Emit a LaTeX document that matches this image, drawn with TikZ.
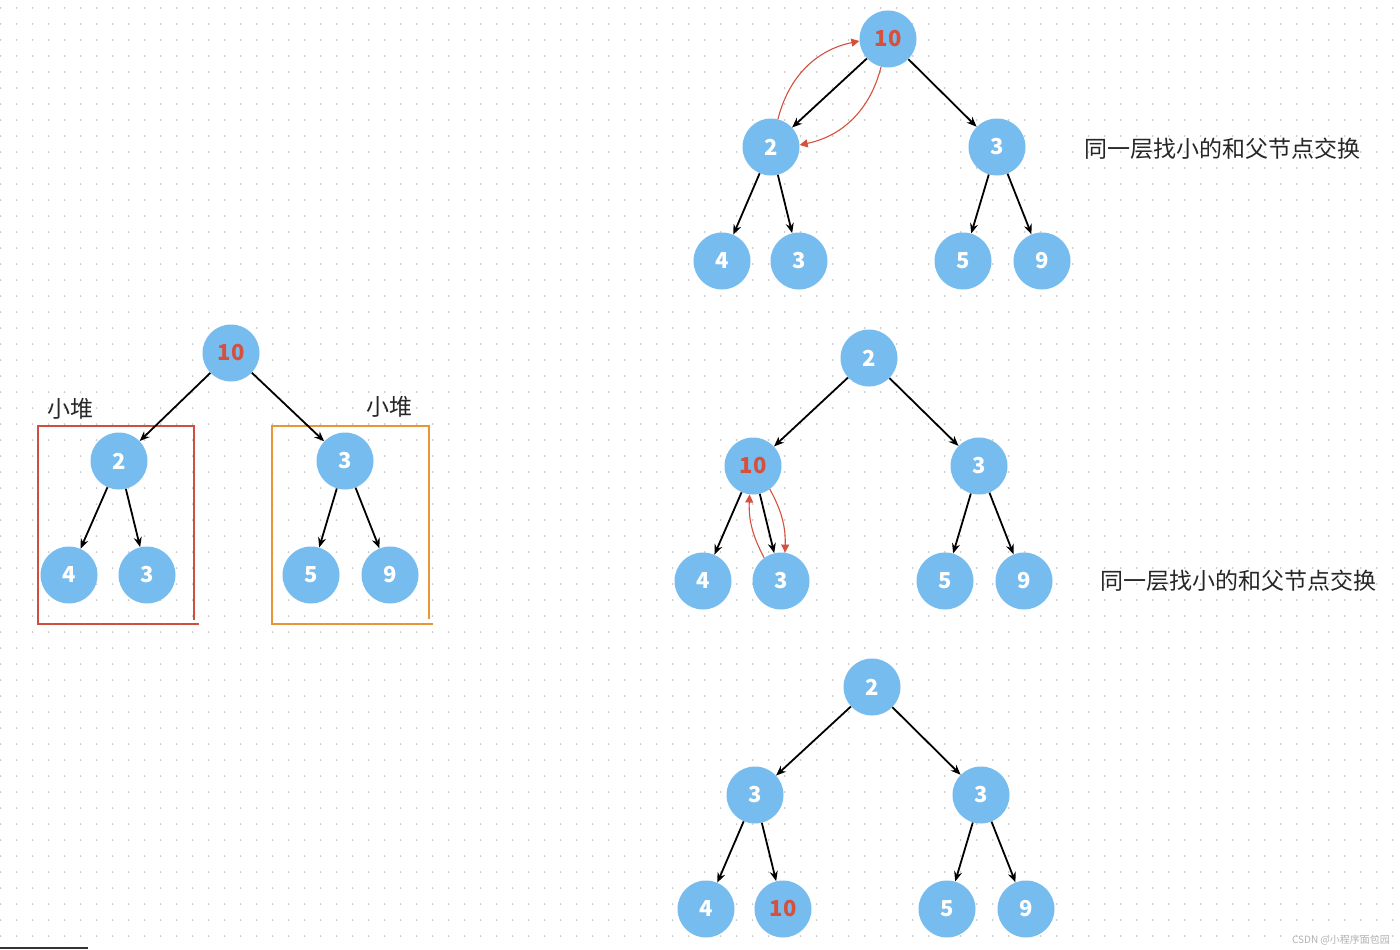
\documentclass[tikz,border=0pt]{standalone}
\usepackage{fontspec}
\newfontfamily\cjk{Noto Sans CJK SC}
\usetikzlibrary{arrows.meta}
\definecolor{nodeblue}{RGB}{118,188,238}
\definecolor{swapred}{RGB}{214,80,60}
\definecolor{heaporange}{RGB}{230,150,55}
\definecolor{heapred}{RGB}{208,78,62}

\begin{document}
\begin{tikzpicture}[x=1pt,y=-1pt,
  hnode/.style={circle,fill=nodeblue,text=white,minimum size=57pt,inner sep=0pt,
    font=\cjk\bfseries\fontsize{22}{26}\selectfont},
  hot/.style={text=swapred},
  hedge/.style={-{Stealth[length=10pt,width=8pt]},line width=1.8pt,black},
  swaparrow/.style={-{Triangle[length=8pt,width=8pt]},line width=1.1pt,swapred},
  note/.style={font=\cjk\fontsize{23}{27}\selectfont,text=black!85}]
  \useasboundingbox (0,0) rectangle (1400,950);
  \fill[white] (0,0) rectangle (1400,950);
  % dotted background
  \foreach \y in {8,24,...,950}
    \draw[black!22,line width=2pt,line cap=round,dash pattern=on 0pt off 16pt] (0.5,\y) -- (1400,\y);
  \draw[black!80,line width=1.5pt] (0,948) -- (88,948);

  % left: the two small heaps
  \draw[heapred,line width=2pt] (199,624) -- (38,624) -- (38,426) -- (194,426) -- (194,620);
  \draw[heaporange,line width=2pt] (433,624) -- (272,624) -- (272,426) -- (429,426) -- (429,619);
  \node[note] (lbl1) at (70,409) {小堆};
  \node[note] (lbl2) at (389,407) {小堆};
  \node[hnode,hot] (b10) at (231,353) {10};
  \node[hnode] (b2) at (119,461) {2};
  \node[hnode] (b3) at (345,461) {3};
  \node[hnode] (b4) at (69,575) {4};
  \node[hnode] (b3a) at (147,575) {3};
  \node[hnode] (b5) at (311,575) {5};
  \node[hnode] (b9) at (390,575) {9};
  \draw[hedge] (b10) -- (b2);
  \draw[hedge] (b10) -- (b3);
  \draw[hedge] (b2) -- (b4);
  \draw[hedge] (b2) -- (b3a);
  \draw[hedge] (b3) -- (b5);
  \draw[hedge] (b3) -- (b9);

  % step 1
  \node[hnode,hot] (a10) at (888,39) {10};
  \node[hnode] (a2) at (771,147) {2};
  \node[hnode] (a3) at (997,147) {3};
  \node[hnode] (a4) at (722,261) {4};
  \node[hnode] (a3a) at (799,261) {3};
  \node[hnode] (a5) at (963,261) {5};
  \node[hnode] (a9) at (1042,261) {9};
  \draw[hedge] (a10) -- (a2);
  \draw[hedge] (a10) -- (a3);
  \draw[hedge] (a2) -- (a4);
  \draw[hedge] (a2) -- (a3a);
  \draw[hedge] (a3) -- (a5);
  \draw[hedge] (a3) -- (a9);
  \draw[swaparrow] (a2.76) to[bend left=32] (a10.184);
  \draw[swaparrow] (a10.256) to[bend left=32] (a2.4);
  \node[note] (txt1) at (1222,149) {同一层找小的和父节点交换};

  % step 2
  \node[hnode] (c2) at (869,358) {2};
  \node[hnode,hot] (c10) at (753,466) {10};
  \node[hnode] (c3) at (979,466) {3};
  \node[hnode] (c4) at (703,581) {4};
  \node[hnode] (c3a) at (781,581) {3};
  \node[hnode] (c5) at (945,581) {5};
  \node[hnode] (c9) at (1024,581) {9};
  \draw[hedge] (c2) -- (c10);
  \draw[hedge] (c2) -- (c3);
  \draw[hedge] (c10) -- (c4);
  \draw[hedge] (c10) -- (c3a);
  \draw[hedge] (c3) -- (c5);
  \draw[hedge] (c3) -- (c9);
  \draw[swaparrow] (c3a.126) to[bend left=15] (c10.263);
  \draw[swaparrow] (c10.306) to[bend left=15] (c3a.82);
  \node[note] (txt2) at (1238,581) {同一层找小的和父节点交换};

  % step 3
  \node[hnode] (d2) at (872,687) {2};
  \node[hnode] (d3) at (755,795) {3};
  \node[hnode] (d3b) at (981,795) {3};
  \node[hnode] (d4) at (706,909) {4};
  \node[hnode,hot] (d10) at (783,909) {10};
  \node[hnode] (d5) at (947,909) {5};
  \node[hnode] (d9) at (1026,909) {9};
  \draw[hedge] (d2) -- (d3);
  \draw[hedge] (d2) -- (d3b);
  \draw[hedge] (d3) -- (d4);
  \draw[hedge] (d3) -- (d10);
  \draw[hedge] (d3b) -- (d5);
  \draw[hedge] (d3b) -- (d9);

  \node[font=\cjk\fontsize{10}{12}\selectfont,text=black!30] (mark) at (1341,940) {CSDN @小程序面包园};
\end{tikzpicture}
\end{document}
